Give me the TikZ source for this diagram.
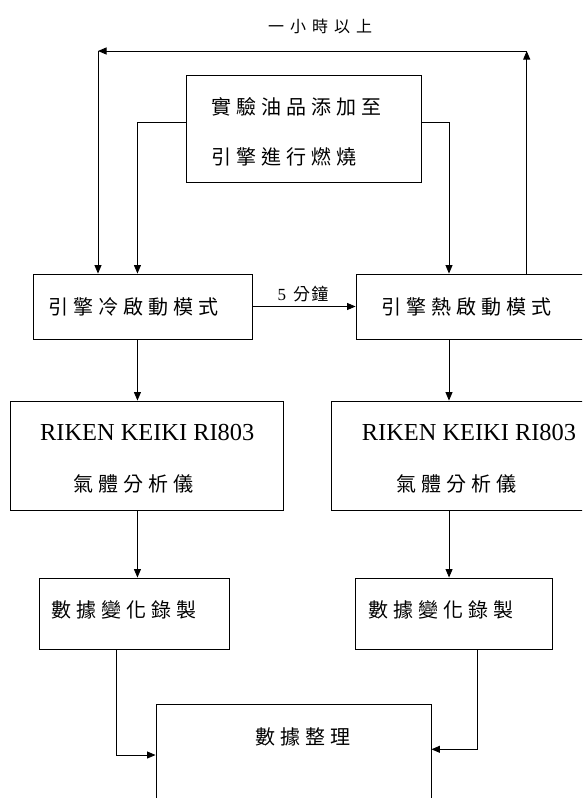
\documentclass[tikz,border=0pt]{standalone}
\usepackage{fontspec}
\setmainfont{Liberation Serif}
\newfontfamily\cjk{Noto Sans CJK TC}
\usetikzlibrary{arrows.meta,calc}
\makeatletter
\newcommand\spc[2]{\@tfor\spc@c:=#2\do{\spc@c\hspace{#1}}\unskip}
\makeatother
\begin{document}
\begin{tikzpicture}[x=1pt,y=-1pt,
  box/.style={draw, line width=0.9pt, inner sep=0pt},
  arr/.style={line width=0.9pt, -{Triangle[length=8.5pt,width=7pt]}},
  cj/.style={inner sep=0pt, anchor=west, font=\cjk\fontsize{20}{24}\selectfont},
  rk/.style={inner sep=0pt, anchor=west, font=\fontsize{24.4}{28}\selectfont},
  lab/.style={inner sep=0pt}]
\useasboundingbox (0,0) rectangle (582,798);
\clip (0,0) rectangle (582,798);
% boxes
\node[box, minimum width=235pt, minimum height=107pt] (top) at (303.5,128.5) {};
\node[box, minimum width=218.3pt, minimum height=65pt] (cold) at (142.85,306.5) {};
\node[box, minimum width=244pt, minimum height=65pt] (hot) at (478,306.5) {};
\node[box, minimum width=272.3pt, minimum height=109.5pt] (rikL) at (146.85,455.75) {};
\node[box, minimum width=272.3pt, minimum height=109.5pt] (rikR) at (467.85,455.75) {};
\node[box, minimum width=189.7pt, minimum height=71.3pt] (datL) at (134.15,613.65) {};
\node[box, minimum width=196.6pt, minimum height=71.3pt] (datR) at (454,613.65) {};
\node[box, minimum width=275pt, minimum height=126pt] (bot) at (293.5,767) {};
% texts
\node[cj] (topa) at (211,107) {\spc{5pt}{實驗油品添加至}};
\node[cj] (topb) at (211,157) {\spc{5pt}{引擎進行燃燒}};
\node[cj] (coldt) at (48.5,306.5) {\spc{5pt}{引擎冷啟動模式}};
\node[cj] (hott) at (381.5,306.5) {\spc{5pt}{引擎熱啟動模式}};
\node[rk] (rikLa) at (40,432.5) {RIKEN KEIKI RI803};
\node[cj] (rikLb) at (73,484) {\spc{5pt}{氣體分析儀}};
\node[rk] (rikRa) at (361.7,432.5) {RIKEN KEIKI RI803};
\node[cj] (rikRb) at (396,484) {\spc{5pt}{氣體分析儀}};
\node[cj] (datLt) at (51.5,610) {\spc{5pt}{數據變化錄製}};
\node[cj] (datRt) at (368.5,610) {\spc{5pt}{數據變化錄製}};
\node[cj] (bott) at (255.5,737) {\spc{5pt}{數據整理}};
\node[lab, font=\fontsize{17}{20}\selectfont] (fivemin) at (303,294) {5\hspace{7pt}{\cjk\spc{1.5pt}{分鐘}}};
\node[lab, font=\cjk\fontsize{16}{19}\selectfont] (hour) at (320,26) {\spc{6pt}{一小時以上}};
% loop coordinates
\coordinate (tr) at (526.7,51);
\coordinate (tl) at (98,51);
% connectors
\draw[arr] ([yshift=5.8pt]top.west) -| ([xshift=-5.4pt]cold.north);
\draw[arr] ([yshift=5.8pt]top.east) -| ([xshift=-29pt]hot.north);
\draw[arr] ([xshift=48.7pt]hot.north) -- (tr);
\draw[arr] (tr) -- (tl);
\draw[arr] (tl) -- (tl |- cold.north);
\draw[arr] (cold.east) -- (hot.west);
\draw[arr] ([xshift=-5.4pt]cold.south) -- ([xshift=-5.4pt]cold.south |- rikL.north);
\draw[arr] ([xshift=-29pt]hot.south) -- ([xshift=-29pt]hot.south |- rikR.north);
\draw[arr] ([xshift=-9.4pt]rikL.south) -- ([xshift=-9.4pt]rikL.south |- datL.north);
\draw[arr] ([xshift=-18.8pt]rikR.south) -- ([xshift=-18.8pt]rikR.south |- datR.north);
\draw[arr] ([xshift=-18.15pt]datL.south) |- ([yshift=12pt]bot.west);
\draw[arr] ([xshift=23.7pt]datR.south) |- ([yshift=17.7pt]bot.east);
\end{tikzpicture}
\end{document}
